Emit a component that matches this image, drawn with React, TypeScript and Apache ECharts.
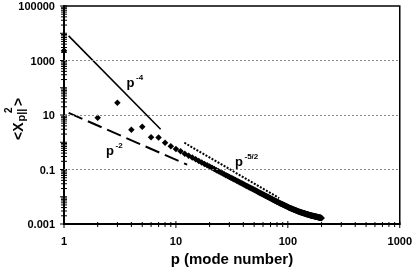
import React, { useEffect, useRef } from "react";
import * as echarts from "echarts";

// mode numbers p = 1..200
const modeNumbers: number[] = Array.from({ length: 200 }, (_, i) => i + 1);
// <X_p||^2>
const meanSquare: number[] = [
  2300, 8.0, 28, 2.9, 3.7, 1.53, 1.5, 0.95, 0.71, 0.56, 0.47, 0.38,
  0.321, 0.274, 0.236, 0.206, 0.181, 0.16, 0.142, 0.128,
  0.115, 0.104, 0.0946, 0.0864, 0.0792, 0.0728, 0.0671, 0.0621, 0.0576, 0.0536,
  0.0499, 0.0467, 0.0437, 0.041, 0.0385, 0.0363, 0.0342, 0.0323, 0.0305, 0.0289,
  0.02745, 0.0261, 0.0248, 0.0236, 0.0225, 0.02147, 0.0205, 0.0196, 0.01875, 0.01797,
  0.01721, 0.01652, 0.01585, 0.01523, 0.01464, 0.01409, 0.01356, 0.01307, 0.0126, 0.01216,
  0.01173, 0.01132, 0.01095, 0.0106, 0.01024, 0.00992, 0.0096, 0.0093, 0.00902, 0.00874,
  0.00848, 0.00824, 0.008, 0.00776, 0.00754, 0.00733, 0.00713, 0.00692, 0.00675, 0.00657,
  0.00641, 0.00625, 0.0061, 0.00595, 0.00581, 0.00567, 0.00554, 0.00541, 0.00529, 0.00517,
  0.00505, 0.00494, 0.00483, 0.00473, 0.00463, 0.00453, 0.00444, 0.00435, 0.00426, 0.00417,
  0.0041, 0.00403, 0.00397, 0.0039, 0.00384, 0.00378, 0.00372, 0.00366, 0.0036, 0.00355,
  0.00349, 0.00344, 0.00339, 0.00334, 0.00329, 0.00324, 0.00319, 0.00315, 0.0031, 0.00306,
  0.00301, 0.00297, 0.00293, 0.00289, 0.00285, 0.00282, 0.00279, 0.00276, 0.00273, 0.0027,
  0.00268, 0.00265, 0.00262, 0.0026, 0.00257, 0.00255, 0.00253, 0.0025, 0.00248, 0.00246,
  0.00243, 0.00241, 0.00239, 0.00237, 0.00235, 0.00232, 0.0023, 0.00228, 0.00226, 0.00224,
  0.00222, 0.00221, 0.00219, 0.00217, 0.00215, 0.00213, 0.00212, 0.0021, 0.00208, 0.00207,
  0.00206, 0.00204, 0.00203, 0.00202, 0.00201, 0.002, 0.00198, 0.00197, 0.00196, 0.00195,
  0.00194, 0.00193, 0.00191, 0.0019, 0.00189, 0.00188, 0.00187, 0.00186, 0.00185, 0.00184,
  0.00183, 0.00182, 0.00181, 0.0018, 0.00179, 0.00178, 0.00177, 0.00176, 0.00175, 0.00174,
  0.00173, 0.00173, 0.00172, 0.00171, 0.0017, 0.00169, 0.00168, 0.00167, 0.00166, 0.00166,
];

// guide lines (end points)
const slopeMinus4: number[][] = [[1.1, 8000], [7.3, 3.0]];
const slopeMinus2: number[][] = [[1.1, 12], [12.6, 0.15]];
const slopeMinus52: number[][] = [[11.9, 0.96], [83.6, 0.0089]];

const xTickLabels = ["1", "10", "100", "1000"];
const yTickLabels = ["0.001", "0.1", "10", "1000", "100000"];
const gridLineValues = [1000, 10, 0.1];
const xDecades = [0, 1, 2];
const yDecades = [-3, -2, -1, 0, 1, 2, 3, 4];
const mantissas = [1, 2, 3, 4, 5, 6, 7, 8, 9];

const FONT = "Liberation Sans, Arial, sans-serif";

export default function App() {
  const ref = useRef<HTMLDivElement>(null);
  useEffect(() => {
    if (!ref.current) return;
    const chart = echarts.init(ref.current, null, { renderer: "svg" });

    const xTicks: number[][] = [];
    xDecades.forEach((e) =>
      mantissas.forEach((m) => xTicks.push([m * Math.pow(10, e), 0.001, m === 1 ? 1 : 0]))
    );
    xTicks.push([1000, 0.001, 1]);
    const yTicks: number[][] = [];
    yDecades.forEach((e) =>
      mantissas.forEach((m) => yTicks.push([1, m * Math.pow(10, e), m === 1 ? 1 : 0]))
    );
    yTicks.push([1, 100000, 1]);

    const fmt = (labels: string[]) => (v: number) => {
      const hit = labels.find((l) => Math.abs(Math.log10(Number(l)) - Math.log10(v)) < 1e-6);
      return hit ?? "";
    };

    const superText = (x: number, y: number, main: string, sup: string) => [
      {
        type: "text",
        x,
        y,
        style: { text: main, font: `bold 13px ${FONT}`, fill: "#000", verticalAlign: "middle", align: "left" },
      },
      {
        type: "text",
        x: x + 9.5,
        y: y - 5,
        style: { text: sup, font: `bold 8px ${FONT}`, fill: "#000", verticalAlign: "middle", align: "left" },
      },
    ];

    chart.setOption({
      animation: false,
      grid: { left: 64, right: 14, top: 6, bottom: 45, show: true, borderColor: "#000", borderWidth: 1.5 },
      xAxis: {
        type: "log",
        logBase: 10,
        min: 1,
        max: 1000,
        axisLine: { show: true, lineStyle: { color: "#000", width: 2 } },
        axisTick: { show: false },
        splitLine: { show: false },
        axisLabel: {
          formatter: fmt(xTickLabels),
          color: "#000",
          fontWeight: "bold",
          fontSize: 11,
          fontFamily: FONT,
          margin: 11,
        },
        name: "p (mode number)",
        nameLocation: "middle",
        nameGap: 27,
        nameTextStyle: { color: "#000", fontWeight: "bold", fontSize: 15, fontFamily: FONT, verticalAlign: "top" },
      },
      yAxis: {
        type: "log",
        logBase: 10,
        min: 0.001,
        max: 100000,
        axisLine: { show: true, lineStyle: { color: "#000", width: 2 } },
        axisTick: { show: false },
        splitLine: { show: false },
        axisLabel: {
          formatter: fmt(yTickLabels),
          color: "#000",
          fontWeight: "bold",
          fontSize: 11,
          fontFamily: FONT,
          margin: 9,
        },
      },
      graphic: [
        {
          type: "group",
          x: 18,
          y: 140,
          rotation: Math.PI / 2,
          children: [
            { type: "text", x: 0, y: 0, style: { text: "<X", font: `bold 14px ${FONT}`, fill: "#000", verticalAlign: "middle" } },
            { type: "text", x: 18.5, y: 3, style: { text: "p||", font: `bold 11px ${FONT}`, fill: "#000", verticalAlign: "middle" } },
            { type: "text", x: 27, y: -10, style: { text: "2", font: `bold 10px ${FONT}`, fill: "#000", verticalAlign: "middle" } },
            { type: "text", x: 34, y: 0, style: { text: ">", font: `bold 14px ${FONT}`, fill: "#000", verticalAlign: "middle" } },
          ],
        },
        ...superText(126.5, 82.5, "p", "-4"),
        ...superText(106, 150.5, "p", "-2"),
        ...superText(235, 161.5, "p", "-5/2"),
      ],
      series: [
        {
          type: "line",
          data: slopeMinus2,
          showSymbol: false,
          lineStyle: { color: "#000", width: 2, type: [15, 6] },
          z: 2,
          markLine: {
            silent: true,
            symbol: ["none", "none"],
            label: { show: false },
            lineStyle: { color: "#8a8a8a", width: 1, type: [2, 2] },
            data: gridLineValues.map((v) => ({ yAxis: v })),
          },
        },
        {
          type: "line",
          data: slopeMinus4,
          showSymbol: false,
          lineStyle: { color: "#000", width: 1.6, type: "solid" },
          z: 2,
        },
        {
          type: "line",
          data: slopeMinus52,
          showSymbol: false,
          lineStyle: { color: "#000", width: 2, type: [2, 1.5] },
          z: 2,
        },
        {
          type: "scatter",
          data: modeNumbers.map((p, i) => [p, meanSquare[i]]),
          symbol: "diamond",
          symbolSize: 6.5,
          itemStyle: { color: "#000", opacity: 1 },
          z: 3,
        },
        {
          type: "custom",
          data: xTicks,
          clip: false,
          silent: true,
          z: 4,
          renderItem: (params: any, api: any) => {
            const pt = api.coord([api.value(0), api.value(1)]);
            const major = api.value(2) === 1;
            return {
              type: "line",
              shape: { x1: pt[0], y1: pt[1] - (major ? 3 : 2), x2: pt[0], y2: pt[1] + (major ? 4 : 3) },
              style: { stroke: "#000", lineWidth: 1 },
            };
          },
        },
        {
          type: "custom",
          data: yTicks,
          clip: false,
          silent: true,
          z: 4,
          renderItem: (params: any, api: any) => {
            const pt = api.coord([api.value(0), api.value(1)]);
            const major = api.value(2) === 1;
            return {
              type: "line",
              shape: { x1: pt[0] - (major ? 4 : 3), y1: pt[1], x2: pt[0] + 3, y2: pt[1] },
              style: { stroke: "#000", lineWidth: 1 },
            };
          },
        },
      ],
    });
    return () => chart.dispose();
  }, []);
  return <div ref={ref} style={{ position: "fixed", left: 0, top: 0, width: 415, height: 271 }} />;
}
